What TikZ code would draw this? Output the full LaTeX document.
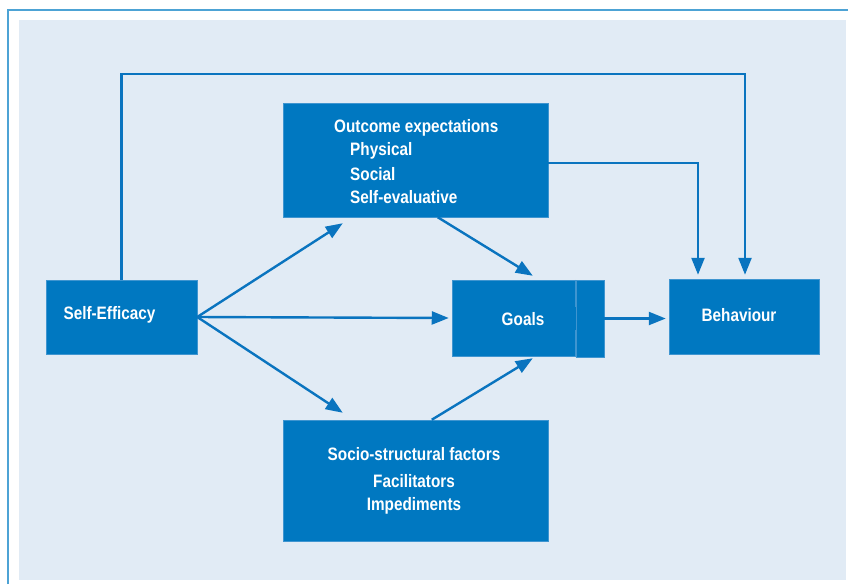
\documentclass[tikz,border=0pt]{standalone}
\usepackage{fontspec}
\setmainfont{Liberation Sans}[FakeStretch=0.85]
\usetikzlibrary{arrows.meta,calc}
\definecolor{boxblue}{HTML}{0078C1}
\definecolor{arrblue}{HTML}{0A74BF}
\definecolor{bgblue}{HTML}{E1EBF5}
\definecolor{frameblue}{HTML}{4DA3D5}
\definecolor{edgeblue}{HTML}{3F95D0}
\begin{document}
\begin{tikzpicture}[x=1pt,y=-1pt,
  box/.style={rectangle,fill=boxblue,draw=edgeblue,line width=0.5pt,inner sep=0pt,anchor=center},
  lbl/.style={text=white,font=\bfseries\fontsize{18}{21}\selectfont,inner sep=0pt},
  arr/.style={draw=arrblue,line width=2.4pt,-{Triangle[length=17pt,width=13pt]}},
  ln/.style={draw=arrblue,line width=2.4pt}]
\useasboundingbox (0,0) rectangle (848,584);
\fill[white] (0,0) rectangle (848,584);
\draw[frameblue,line width=1.6pt] (8,584) -- (8,10) -- (848,10);
\fill[bgblue] (19,20) rectangle (846,580);
% boxes
\node[box,minimum width=151pt,minimum height=74pt] (se) at (121.5,317) {};
\node[box,minimum width=124pt,minimum height=76pt] (goals) at (514,318) {};
\node[box,minimum width=28pt,minimum height=77pt] (tab) at (590,318.5) {};
\node[box,minimum width=150pt,minimum height=75pt] (beh) at (744,316.5) {};
\node[box,minimum width=265pt,minimum height=114pt] (oe) at (415.5,160) {};
\node[box,minimum width=265pt,minimum height=121pt] (ss) at (415.5,480.5) {};
% tab separator segments
\draw[edgeblue,line width=0.6pt] (tab.north west) -- ++(0,27);
\draw[edgeblue,line width=0.6pt] (tab.south west) -- ++(0,-27);
% labels
\node[lbl] (setext) at (109.5,314.5) {Self-Efficacy};
\node[lbl] (goalstext) at (523,319) {Goals};
\node[lbl] (behtext) at (739,315) {Behaviour};
\node[lbl,anchor=west] (oe1) at (334,127.5) {Outcome expectations};
\node[lbl,anchor=west] (oe2) at (350,150.5) {Physical};
\node[lbl,anchor=west] (oe3) at (350,174) {Social};
\node[lbl,anchor=west] (oe4) at (350,197.5) {Self-evaluative};
\node[lbl] (ss1) at (414,454.5) {Socio-structural factors};
\node[lbl] (ss2) at (414,481) {Facilitators};
\node[lbl] (ss3) at (414,506) {Impediments};
% connectors
\coordinate (topR) at (745,74);
\coordinate (oeR) at ($(oe.east)+(0,3)$);
\coordinate (oeD) at (698,0);
\draw[arr] (se.north) |- (topR) -- ($(topR |- beh.north)+(0,-4)$);
\draw[arr] (oeR) -| ($(oeD |- beh.north)+(0,-4)$);
\draw[arr] (se.east) -- ($(oe.south west)+(60,6)$);
\draw[arr] (se.east) -- ($(goals.west)+(-3,0)$);
\draw[arr] (se.east) -- ($(ss.north west)+(60,-7)$);
\draw[arr] ($(oe.south west)+(155,0)$) -- ($(goals.north west)+(81,-4)$);
\draw[arr] ($(ss.north west)+(149,0)$) -- ($(goals.south west)+(81,2)$);
\draw[arr] (tab.east) -- ($(tab.east -| beh.west)+(-3,0)$);
\end{tikzpicture}
\end{document}
